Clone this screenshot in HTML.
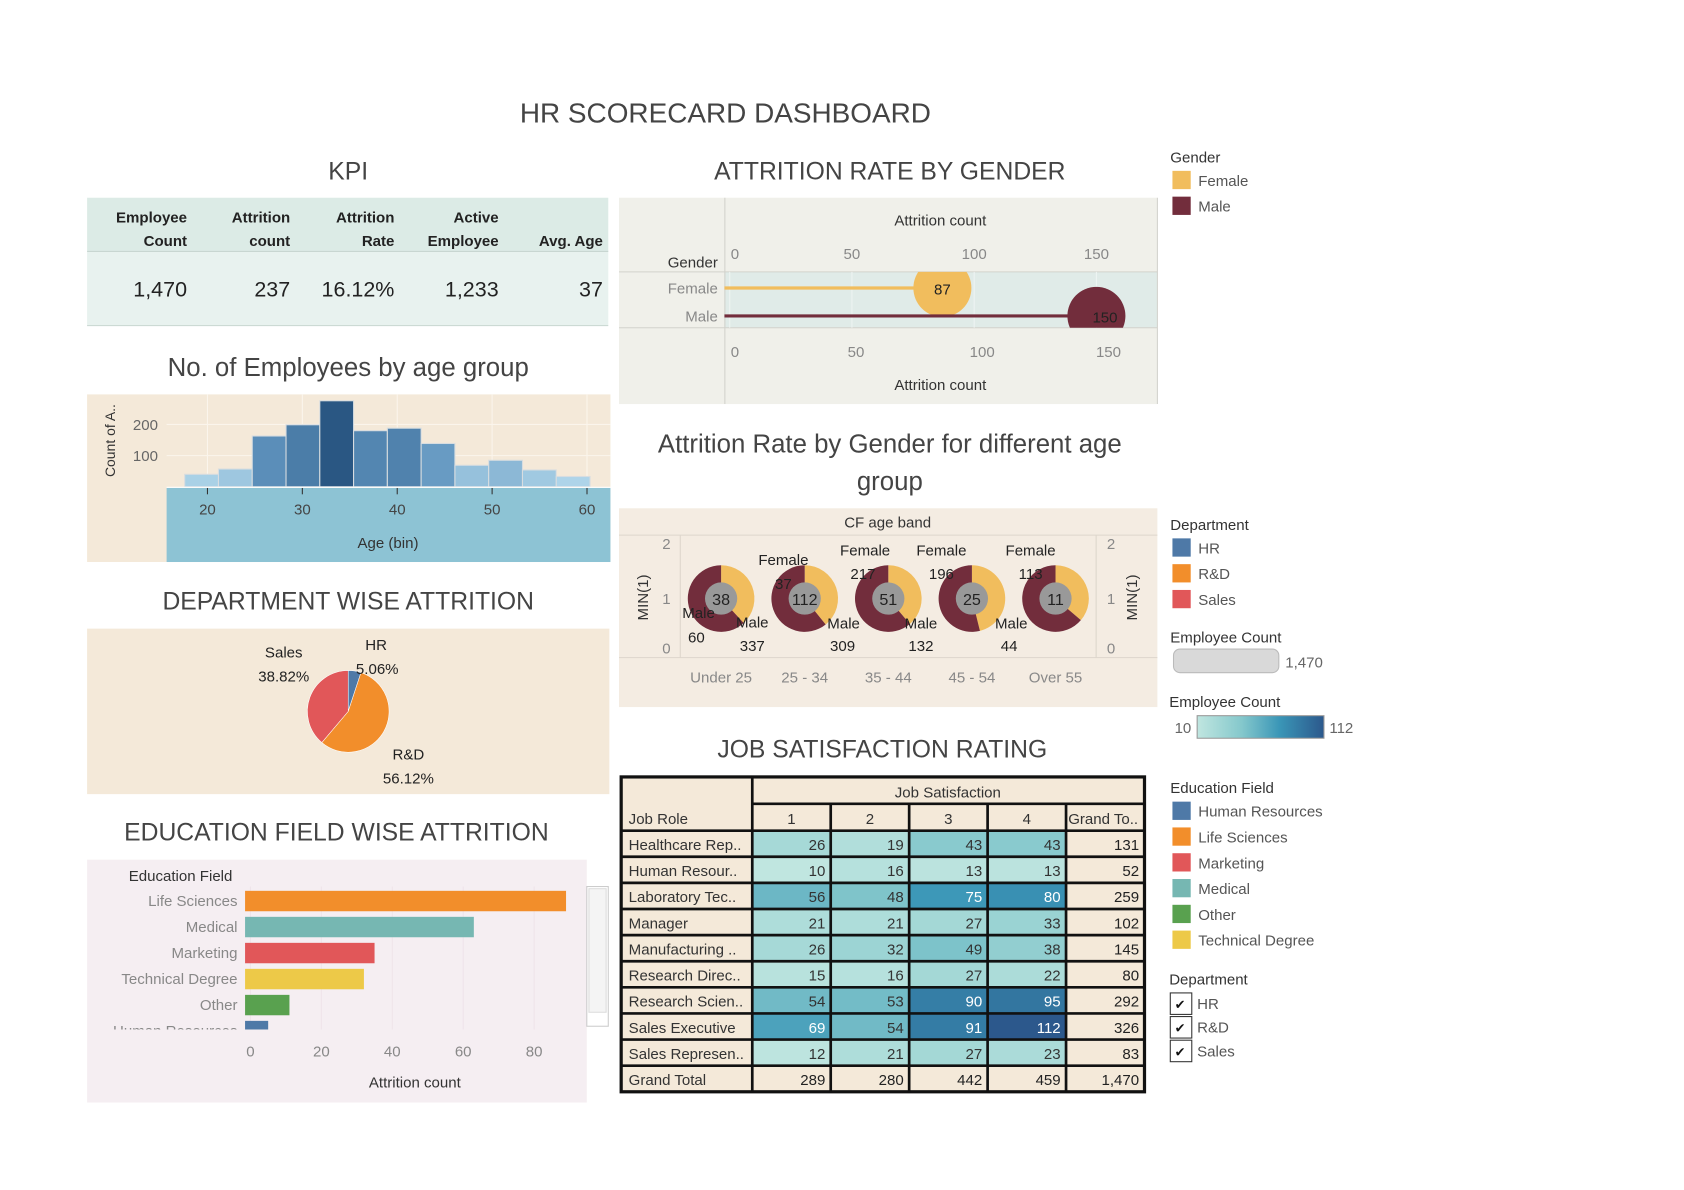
<!DOCTYPE html>
<html><head><meta charset="utf-8">
<style>
html,body{margin:0;padding:0;background:#fff;}
svg{display:block;font-family:"Liberation Sans",sans-serif;}
</style></head>
<body>
<svg id="dash" width="1684" height="1190" viewBox="0 0 1567 1107.4" xmlns="http://www.w3.org/2000/svg">
</svg>
<script>
// ---------- data ----------
const kpiLabels1 = ["Employee","Attrition","Attrition","Active",""];
const kpiLabels2 = ["Count","count","Rate","Employee","Avg. Age"];
const kpiValues = ["1,470","237","16.12%","1,233","37"];

const histStart = 17.6;
const histBinWidth = 3.56;
const histCounts = [40,57,163,199,276,180,188,139,69,85,54,33];
const histTicks = [20,30,40,50,60];
const histYTicks = [100,200];

const genderCats = ["Female","Male"];
const genderValues = [87,150];
const genderTicks = [0,50,100,150];

const ageBands = ["Under 25","25 - 34","35 - 44","45 - 54","Over 55"];
const ageFemale = [37,217,196,113,25];
const ageMale = [60,337,309,132,44];
const ageAttr = [38,112,51,25,11];
const femaleLbl = [37,217,196,113,null];

const deptNames = ["HR","R&D","Sales"];
const deptPct = [5.06,56.12,38.82];

const eduCats = ["Life Sciences","Medical","Marketing","Technical Degree","Other","Human Resources"];
const eduValues = [89,63,35,32,11,5];
const eduTicks = [0,20,40,60,80];

const jobRoles = ["Healthcare Rep..","Human Resour..","Laboratory Tec..","Manager","Manufacturing ..","Research Direc..","Research Scien..","Sales Executive","Sales Represen.."];
const js1 = [26,10,56,21,26,15,54,69,12];
const js2 = [19,16,48,21,32,16,53,54,21];
const js3 = [43,13,75,27,49,27,90,91,27];
const js4 = [43,13,80,33,38,22,95,112,23];
const jsTotals = ["289","280","442","459","1,470"];

// ---------- helpers ----------
const NS="http://www.w3.org/2000/svg";
const root=document.getElementById('dash');
function el(tag,attrs,parent,text){const e=document.createElementNS(NS,tag);for(const k in attrs)e.setAttribute(k,attrs[k]);if(text!==undefined)e.textContent=text;(parent||root).appendChild(e);return e;}
function grp(name,parent){const g=el('g',{},parent);


return g;}
function txt(g,x,y,s,size,fill,anchor,weight){return el('text',{x:x,y:y,'font-size':size,fill:fill||'#333','text-anchor':anchor||'start','font-weight':weight||'normal'},g,s);}
function lerp(a,b,t){return Math.round(a+(b-a)*t);}
function grad(stops,t){t=Math.max(0,Math.min(1,t));for(let i=0;i<stops.length-1;i++){const [t0,c0]=stops[i],[t1,c1]=stops[i+1];if(t<=t1){const u=(t-t0)/(t1-t0);return `rgb(${lerp(c0[0],c1[0],u)},${lerp(c0[1],c1[1],u)},${lerp(c0[2],c1[2],u)})`;}}return 'rgb(0,0,0)';}

// ---------- titles ----------
const titles=grp('titles');
let t=txt(titles,675,114,"HR SCORECARD DASHBOARD",26,'#444','middle');
[["KPI",324,167,'kpi-title'],["ATTRITION RATE BY GENDER",828,167,'gender-title'],["DEPARTMENT WISE ATTRITION",324,567,'department-title'],["EDUCATION FIELD WISE ATTRITION",313,782,'education-title'],["JOB SATISFACTION RATING",821,705,'job-satisfaction-title']].forEach(a=>{const e=txt(titles,a[1],a[2],a[0],23,'#444','middle');});
t=txt(titles,324,350,"No. of Employees by age group",24,'#444','middle');
t=txt(titles,828,421,"Attrition Rate by Gender for different age",24,'#444','middle');
txt(titles,828,456,"group",24,'#444','middle');

// ---------- KPI ----------
const kpi=grp('kpi-table');
el('rect',{x:81,y:184,width:485,height:50,fill:'#dcebe6'},kpi);
el('rect',{x:81,y:234,width:485,height:69,fill:'#e8f2ef'},kpi);
el('line',{x1:81,y1:234,x2:566,y2:234,stroke:'#c8d6d1'},kpi);
el('line',{x1:81,y1:303,x2:566,y2:303,stroke:'#c8d6d1'},kpi);
const kpiX=[174,270,367,464,561];
kpiValues.forEach((v,i)=>{
 if(kpiLabels1[i]) txt(kpi,kpiX[i],207,kpiLabels1[i],14,'#222','end','bold');
 txt(kpi,kpiX[i],229,kpiLabels2[i],14,'#222','end','bold');
 const e=txt(kpi,kpiX[i],276,v,20,'#222','end');
 
 
});

// ---------- Histogram ----------
const hist=grp('age-histogram');
el('rect',{x:81,y:367,width:487,height:156,fill:'#f4e9d9'},hist);
el('rect',{x:155,y:454,width:413,height:69,fill:'#8dc3d4'},hist);
const hx=v=>193+(v-20)*8.83, hy=v=>453-v*0.29;
histTicks.forEach(v=>{el('line',{x1:hx(v),y1:367,x2:hx(v),y2:453,stroke:'#fbf5ec'},hist);el('line',{x1:hx(v),y1:454,x2:hx(v),y2:460,stroke:'#333'},hist);txt(hist,hx(v),479,String(v),14,'#444','middle');});
histYTicks.forEach(v=>{el('line',{x1:155,y1:hy(v),x2:568,y2:hy(v),stroke:'#fbf5ec'},hist);txt(hist,147,hy(v)+5,String(v),14,'#666','end');});
const maxH=Math.max(...histCounts);
histCounts.forEach((c,i)=>{
 const x0=hx(histStart+i*histBinWidth), x1=hx(histStart+(i+1)*histBinWidth);
 const r=el('rect',{x:x0,y:hy(c),width:x1-x0,height:453-hy(c),fill:grad([[0,[176,214,234]],[0.5,[95,147,190]],[1,[42,87,131]]],(c-30)/(maxH-30)),stroke:'#d8dde0','stroke-width':1},hist);
 
 
});
el('line',{x1:155,y1:453.5,x2:568,y2:453.5,stroke:'#fff'},hist);
txt(hist,361,510,"Age (bin)",14,'#333','middle');
el('text',{x:0,y:0,'font-size':13,fill:'#333','text-anchor':'middle',transform:'translate(107,410) rotate(-90)'},hist,"Count of A..");

// ---------- Gender ----------
const gen=grp('gender-chart');
el('rect',{x:576,y:184,width:501,height:192,fill:'#f0f0ea'},gen);
el('rect',{x:674,y:253,width:403,height:52,fill:'#e0ebe8'},gen);
el('line',{x1:576,y1:253,x2:1077,y2:253,stroke:'#d2d2cc'},gen);
el('line',{x1:576,y1:305,x2:1077,y2:305,stroke:'#d2d2cc'},gen);
el('line',{x1:674.5,y1:184,x2:674.5,y2:376,stroke:'#d2d2cc'},gen);
el('line',{x1:1077,y1:184,x2:1077,y2:376,stroke:'#d2d2cc'},gen);
const gxTop=v=>679+v*2.275, gxBot=v=>679+v*2.35;
txt(gen,875,210,"Attrition count",14,'#333','middle');
txt(gen,875,363,"Attrition count",14,'#333','middle');
genderTicks.forEach(v=>{txt(gen,gxTop(v)+(v?0:1),241,String(v),14,'#888',v?'middle':'start');txt(gen,gxBot(v)+(v?0:1),332,String(v),14,'#888',v?'middle':'start');el('line',{x1:gxTop(v),y1:253,x2:gxTop(v),y2:305,stroke:'#eef4f2'},gen);});
txt(gen,668,249,"Gender",14,'#333','end');
const gclip=el('clipPath',{id:'gclip'},gen);
el('rect',{x:674,y:253,width:403,height:52},gclip);
const gcol=['#f1bd5d','#722d3c'];
const gy=[268,294];
genderCats.forEach((c,i)=>{
 txt(gen,668,gy[i]+5,c,14,'#888','end');
 const gg=el('g',{'clip-path':'url(#gclip)'},gen);
 el('line',{x1:674,y1:gy[i],x2:gxTop(genderValues[i]),y2:gy[i],stroke:gcol[i],'stroke-width':3},gg);
 const cc=el('circle',{cx:gxTop(genderValues[i]),cy:gy[i],r:27,fill:gcol[i]},gg);
 
 
 txt(gg,gxTop(genderValues[i])+(i?8:0),gy[i]+6,String(genderValues[i]),14,'#222','middle');
});

// ---------- Donuts ----------
const don=grp('age-band-donuts');
el('rect',{x:576,y:473,width:501,height:185,fill:'#f4ece2'},don);
el('line',{x1:576,y1:498,x2:1077,y2:498,stroke:'#ddd6cc'},don);
el('line',{x1:576,y1:612,x2:1077,y2:612,stroke:'#ddd6cc'},don);
el('line',{x1:633,y1:498,x2:633,y2:612,stroke:'#ddd6cc'},don);
el('line',{x1:1020,y1:498,x2:1020,y2:612,stroke:'#ddd6cc'},don);
txt(don,826,491,"CF age band",14,'#333','middle');
[["2",511],["1",562],["0",608]].forEach(a=>{txt(don,624,a[1],a[0],14,'#888','end');txt(don,1030,a[1],a[0],14,'#888','start');});
el('text',{'font-size':14,fill:'#333','text-anchor':'middle',transform:'translate(603,556) rotate(-90)'},don,"MIN(1)");
el('text',{'font-size':14,fill:'#333','text-anchor':'middle',transform:'translate(1058,556) rotate(-90)'},don,"MIN(1)");
const dx=i=>671+i*77.8, dcy=557, R=31, r0=15;
function arc(cx,cy,r,a0,a1){const p=a=>[cx+r*Math.sin(a),cy-r*Math.cos(a)];const [x0,y0]=p(a0),[x1,y1]=p(a1);return `M${cx},${cy}L${x0},${y0}A${r},${r} 0 ${a1-a0>Math.PI?1:0} 1 ${x1},${y1}Z`;}
ageBands.forEach((b,i)=>{
 const cx=dx(i), f=ageFemale[i]/(ageFemale[i]+ageMale[i]);
 const fa=f*2*Math.PI;
 const p1=el('path',{d:arc(cx,dcy,R,0,fa),fill:'#f1bd5d'},don);
 
 
 const p2=el('path',{d:arc(cx,dcy,R,fa,2*Math.PI-0.0001),fill:'#722d3c'},don);
 
 
 el('circle',{cx:cx,cy:dcy,r:r0,fill:'#999'},don);
 txt(don,cx,dcy+6,String(ageAttr[i]),15,'#222','middle');
 txt(don,cx,635,b,14,'#888','middle');
});
[[729,526,"Female"],[805,517,"Female"],[876,517,"Female"],[959,517,"Female"]].forEach(a=>txt(don,a[0],a[1],a[2],14,'#222','middle'));
femaleLbl.forEach((v,i)=>{if(v!==null)txt(don,[729,803,876,959][i],[548,539,539,539][i],String(v),14,'#222','middle');});
[[650,575,"Male"],[700,584,"Male"],[785,585,"Male"],[857,585,"Male"],[941,585,"Male"]].forEach(a=>txt(don,a[0],a[1],a[2],14,'#222','middle'));
ageMale.forEach((v,i)=>txt(don,[648,700,784,857,939][i],[598,606,606,606,606][i],String(v),14,'#222','middle'));

// ---------- Dept pie ----------
const pie=grp('department-pie');
el('rect',{x:81,y:585,width:486,height:154,fill:'#f4e9d9'},pie);
const pcol=['#4e79a7','#f28e2b','#e15759'];
let acc=0;const pcx=324,pcy=662,pr=38;
deptPct.forEach((p,i)=>{const a0=acc/100*2*Math.PI;acc+=p;const a1=acc/100*2*Math.PI;
 const s=el('path',{d:arc(pcx,pcy,pr,a0,a1),fill:pcol[i],stroke:'#fff','stroke-width':0.5},pie);
 
 });
txt(pie,350,605,"HR",14,'#222','middle');txt(pie,351,627,deptPct[0].toFixed(2)+"%",14,'#222','middle');
txt(pie,264,612,"Sales",14,'#222','middle');txt(pie,264,634,deptPct[2].toFixed(2)+"%",14,'#222','middle');
txt(pie,380,707,"R&D",14,'#222','middle');txt(pie,380,729,deptPct[1].toFixed(2)+"%",14,'#222','middle');

// ---------- Education bars ----------
const edu=grp('education-bars');
el('rect',{x:81,y:800,width:465,height:226,fill:'#f5eef2'},edu);
el('rect',{x:546,y:825,width:20,height:130,fill:'#fff',stroke:'#ccc'},edu);
el('rect',{x:548,y:827,width:16,height:115,fill:'#f4f4f4',stroke:'#ddd'},edu);
const ex=v=>233+v*3.3;
eduTicks.forEach(v=>{el('line',{x1:ex(v),y1:825,x2:ex(v),y2:958,stroke:'#efe4ea'},edu);txt(edu,ex(v),983,String(v),14,'#888','middle');});
txt(edu,168,820,"Education Field",14,'#333','middle');
txt(edu,386,1012,"Attrition count",14,'#333','middle');
const ecol=['#f28e2b','#76b7b2','#e15759','#edc948','#59a14f','#4e79a7'];
const ecl=el('clipPath',{id:'eclip'},edu);el('rect',{x:81,y:825,width:465,height:133},ecl);
const eg=el('g',{'clip-path':'url(#eclip)'},edu);
eduCats.forEach((c,i)=>{const y=829+i*24.2;
 txt(eg,221,y+14,c,14,'#888','end');
 const b=el('rect',{x:228,y:y,width:ex(eduValues[i])-228,height:19,fill:ecol[i]},eg);
 
 });

// ---------- Job satisfaction table ----------
const tab=grp('job-satisfaction-table');
const cols=[578,700,773,846,919,992,1065];
const tTop=723,h1=25,h2=25,rh=24.3;
el('rect',{x:578,y:tTop,width:487,height:h1+h2+rh*10,fill:'#f4e9d9'},tab);
const jsCols=[js1,js2,js3,js4];
const heat=v=>grad([[0,[192,230,224]],[0.35,[133,200,204]],[0.65,[58,150,183]],[1,[44,88,140]]],(v-10)/102);
jobRoles.forEach((r,ri)=>{const y=tTop+h1+h2+ri*rh;
 txt(tab,585,y+18,r,14,'#333');
 jsCols.forEach((col,ci)=>{const v=col[ri];
  const c=el('rect',{x:cols[ci+1],y:y,width:cols[ci+2]-cols[ci+1],height:rh,fill:heat(v)},tab);
  
  
  txt(tab,cols[ci+2]-5,y+18,String(v),14,v>=69?'#fff':'#333','end');});
 const tot=js1[ri]+js2[ri]+js3[ri]+js4[ri];
 txt(tab,1060,y+18,String(tot),14,'#222','end');
});
const gy2=tTop+h1+h2+9*rh;
txt(tab,585,gy2+18,"Grand Total",14,'#333');
jsTotals.forEach((v,i)=>txt(tab,cols[i+2]-5,gy2+18,v,14,'#222','end'));
txt(tab,585,tTop+h1+h2-6,"Job Role",14,'#333');
txt(tab,882,tTop+19,"Job Satisfaction",14,'#333','middle');
["1","2","3","4"].forEach((s,i)=>txt(tab,(cols[i+1]+cols[i+2])/2,tTop+h1+19,s,14,'#333','middle'));
txt(tab,994,tTop+h1+19,"Grand To..",14,'#333');
const L={stroke:'#111','stroke-width':2.5};
el('rect',{x:578,y:tTop,width:487,height:h1+h2+rh*10,fill:'none',stroke:'#111','stroke-width':3},tab);
el('line',Object.assign({x1:700,y1:tTop+h1,x2:1065,y2:tTop+h1},L),tab);
for(let k=0;k<=9;k++){const y=tTop+h1+h2+k*rh;el('line',Object.assign({x1:578,y1:y,x2:1065,y2:y},L),tab);}
el('line',Object.assign({x1:700,y1:tTop,x2:700,y2:tTop+h1+h2+10*rh},L),tab);
for(let k=2;k<=5;k++)el('line',Object.assign({x1:cols[k],y1:tTop+h1,x2:cols[k],y2:tTop+h1+h2+10*rh},L),tab);

// ---------- legends ----------
const leg=grp('legends');
function legItems(title,ty,items,colors){txt(leg,1089,ty,title,14,'#333');items.forEach((s,i)=>{const y=ty+8+i*24;
 const r=el('rect',{x:1091,y:y,width:17,height:17,fill:colors[i]},leg);
 
 
 txt(leg,1115,y+14,s,14,'#555');});}
legItems("Gender",151,["Female","Male"],gcol);
legItems("Department",493,deptNames,pcol);
txt(leg,1089,598,"Employee Count",14,'#333');
el('rect',{x:1092,y:604,width:98,height:22,rx:6,fill:'#d9d9d9',stroke:'#bbb'},leg);
txt(leg,1196,621,"1,470",14,'#666');
txt(leg,1088,658,"Employee Count",14,'#333');
const lg=el('linearGradient',{id:'hg'},leg);
[[0,'#c0e6e0'],[0.35,'#85c8cc'],[0.65,'#3a96b7'],[1,'#2c588c']].forEach(s=>el('stop',{offset:s[0],'stop-color':s[1]},lg));
el('rect',{x:1114,y:666,width:118,height:21,fill:'url(#hg)',stroke:'#999'},leg);
txt(leg,1093,682,"10",14,'#666');txt(leg,1237,682,"112",14,'#666');
legItems("Education Field",738,eduCats.slice().sort(),['#4e79a7','#f28e2b','#e15759','#76b7b2','#59a14f','#edc948']);
txt(leg,1088,916,"Department",14,'#333');
deptNames.forEach((d,i)=>{const y=924+i*22;
 const b=el('rect',{x:1089,y:y,width:20,height:20,fill:'#fff',stroke:'#333'},leg);
 
 
 txt(leg,1093,y+15,"✔",12,'#111');
 txt(leg,1114,y+15,d,14,'#555');});
</script>
</body></html>
